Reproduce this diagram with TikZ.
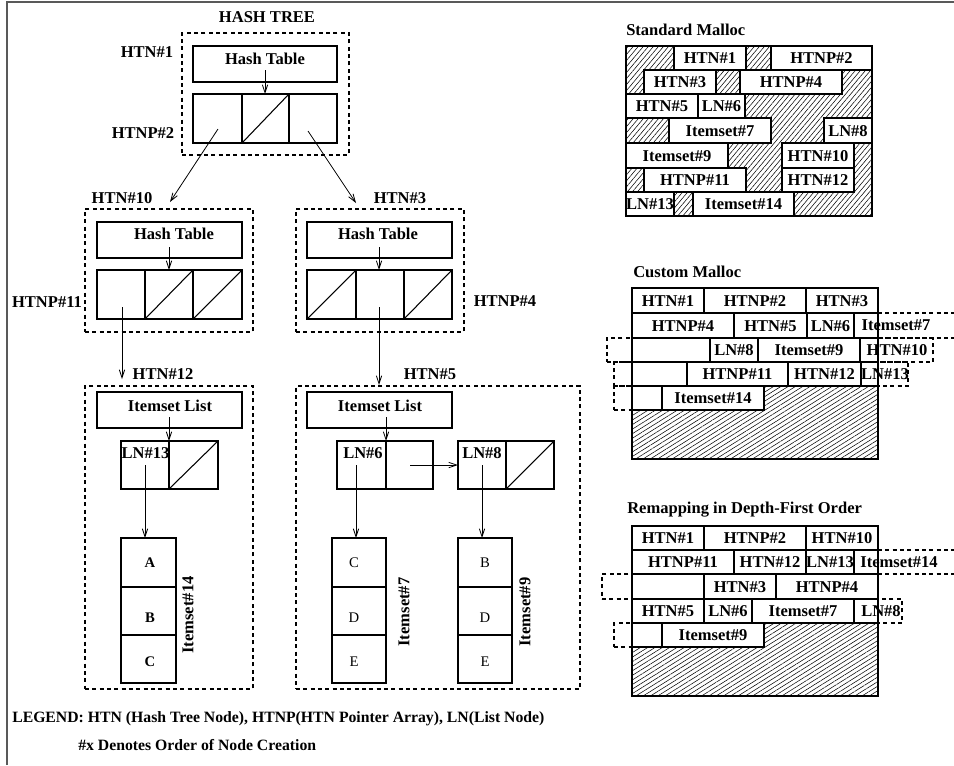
\documentclass[tikz,border=0pt]{standalone}
\usepackage{fontspec}
\setmainfont{Liberation Serif}
\usetikzlibrary{fit,arrows.meta,patterns.meta}
\newcommand\mcell[6]{\node[bx,fit={(#2,#3) (#4,#5)}] (#1) {};\node[lbl] (#1t) at ([yshift=-0.3pt]#1.center) {#6};}
\newcommand\ebox[5]{\node[bx,fit={(#2,#3) (#4,#5)}] (#1) {};}
\begin{document}
\begin{tikzpicture}[x=0.75pt,y=-0.75pt,
  lbl/.style={font=\fontsize{12.4}{14}\selectfont\bfseries, inner sep=0pt},
  leg/.style={font=\fontsize{11.8}{14}\selectfont\bfseries, inner sep=0pt},
  sml/.style={font=\fontsize{11}{12}\selectfont\bfseries, inner sep=0pt},
  smr/.style={font=\fontsize{11}{12}\selectfont, inner sep=0pt},
  bx/.style={draw, line width=0.8pt, inner sep=0pt, outer sep=0pt, fill=white},
  dbx/.style={draw, line width=0.8pt, inner sep=0pt, outer sep=0pt, dash pattern=on 3pt off 2.5pt},
  dln/.style={line width=0.8pt, dash pattern=on 3pt off 2.5pt},
  sl/.style={line width=0.8pt},
  arr/.style={line width=0.6pt, -{Straight Barb[length=6pt,width=4pt]}},
  hatchA/.style={pattern={Lines[angle=50,distance=2.9pt,line width=0.4pt]}},
  hatchB/.style={pattern={Lines[angle=32,distance=2.9pt,line width=0.4pt]}},
]
\useasboundingbox (0,0) rectangle (954,765);
\fill[white] (0,0) rectangle (954,765);
\draw[line width=1.5pt, black!65] (7,765) -- (7,2) -- (954,2);

% ---------------- HASH TREE ----------------
\node[lbl] (title) at (267,17) {HASH TREE};
\node[dbx, fit={(182,33) (349,155)}] (d1) {};
\ebox{ht1}{193}{46}{337}{82}
\node[lbl] (ht1t) at (265,59) {Hash Table};
\ebox{a1a}{193}{94}{242}{143}
\ebox{a1b}{242}{94}{289}{143}
\ebox{a1c}{289}{94}{337}{143}
\draw[sl] (a1b.south west) -- (a1b.north east);
\coordinate (s1) at (265,70);
\draw[arr] (s1) -- (a1b.north -| s1);
\node[lbl] (l1) at (147,52) {HTN\#1};
\node[lbl] (l2) at (143,133) {HTNP\#2};
\coordinate (p1) at (218,129);
\coordinate (t10) at (170,202);
\coordinate (p2) at (308,131);
\coordinate (t3) at (356,203);
\draw[arr] (p1) -- (t10);
\draw[arr] (p2) -- (t3);

% ---- HTN#10 ----
\node[lbl] (l10) at (122,198) {HTN\#10};
\node[dbx, fit={(85,209) (253,332)}] (d10) {};
\ebox{ht10}{97}{222}{242}{258}
\node[lbl] (ht10t) at (174,234) {Hash Table};
\ebox{a10a}{97}{270}{145}{319}
\ebox{a10b}{145}{270}{193}{319}
\ebox{a10c}{193}{270}{242}{319}
\draw[sl] (a10b.south west) -- (a10b.north east);
\draw[sl] (a10c.south west) -- (a10c.north east);
\coordinate (s10) at (169,247);
\draw[arr] (s10) -- (a10b.north -| s10);
\node[lbl] (l11) at (47,302) {HTNP\#11};

% ---- HTN#3 ----
\node[lbl] (l3) at (400,198) {HTN\#3};
\node[dbx, fit={(296,209) (464,332)}] (d3) {};
\ebox{ht3}{307}{222}{452}{258}
\node[lbl] (ht3t) at (378,234) {Hash Table};
\ebox{a3a}{307}{270}{356}{319}
\ebox{a3b}{356}{270}{404}{319}
\ebox{a3c}{404}{270}{452}{319}
\draw[sl] (a3a.south west) -- (a3a.north east);
\draw[sl] (a3c.south west) -- (a3c.north east);
\coordinate (s3) at (379,247);
\draw[arr] (s3) -- (a3b.north -| s3);
\node[lbl] (l4) at (505,301) {HTNP\#4};

% arrows to lower level
\coordinate (p11) at (122,307);
\coordinate (t12) at (122,379);
\draw[arr] (p11) -- (t12);
\coordinate (p4) at (379,307);
\coordinate (t5) at (379,385);
\draw[arr] (p4) -- (t5);

% ---- HTN#12 ----
\node[lbl] (l12) at (163,374) {HTN\#12};
\node[dbx, fit={(85,386) (253,689)}] (d12) {};
\ebox{il12}{97}{392}{242}{428}
\node[lbl] (il12t) at (170,406) {Itemset List};
\ebox{ln13a}{121}{441}{169}{489}
\ebox{ln13b}{169}{441}{218}{489}
\draw[sl] (ln13b.south west) -- (ln13b.north east);
\coordinate (s12) at (169,417);
\draw[arr] (s12) -- (ln13a.north east);
\node[lbl] (l13) at (145.5,453) {LN\#13};
\ebox{i14a}{121}{538}{176}{587}
\ebox{i14b}{121}{587}{176}{635}
\ebox{i14c}{121}{635}{176}{683}
\node[sml] (tA) at (150,563) {A};
\node[sml] (tB) at (150,618) {B};
\node[sml] (tC) at (150,662) {C};
\node[lbl, rotate=90] (l14) at (188,615) {Itemset\#14};
\coordinate (s13) at (145,465);
\draw[arr] (s13) -- (i14a.north -| s13);

% ---- HTN#5 ----
\node[lbl] (l5) at (430,374) {HTN\#5};
\node[dbx, fit={(296,386) (580,689)}] (d5) {};
\ebox{il5}{307}{392}{452}{428}
\node[lbl] (il5t) at (380,406) {Itemset List};
\ebox{ln6a}{337}{441}{386}{489}
\ebox{ln6b}{386}{441}{433}{489}
\coordinate (s5) at (386,417);
\draw[arr] (s5) -- (ln6a.north east);
\node[lbl] (l6) at (363,453) {LN\#6};
\ebox{ln8a}{458}{441}{506}{489}
\ebox{ln8b}{506}{441}{554}{489}
\draw[sl] (ln8b.south west) -- (ln8b.north east);
\node[lbl] (l8) at (482,453) {LN\#8};
\coordinate (s68) at (410,465);
\draw[arr] (s68) -- (s68 -| ln8a.west);
\ebox{i7a}{332}{538}{386}{587}
\ebox{i7b}{332}{587}{386}{635}
\ebox{i7c}{332}{635}{386}{683}
\node[smr] (tC7) at (354,563) {C};
\node[smr] (tD7) at (354,618) {D};
\node[smr] (tE7) at (354,662) {E};
\node[lbl, rotate=90] (l7) at (404,612) {Itemset\#7};
\coordinate (s6) at (356,465);
\draw[arr] (s6) -- (i7a.north -| s6);
\ebox{i9a}{458}{538}{512}{587}
\ebox{i9b}{458}{587}{512}{635}
\ebox{i9c}{458}{635}{512}{683}
\node[smr] (tB9) at (485,563) {B};
\node[smr] (tD9) at (485,618) {D};
\node[smr] (tE9) at (485,662) {E};
\node[lbl, rotate=90] (l9) at (525,612) {Itemset\#9};
\coordinate (s8) at (482,465);
\draw[arr] (s8) -- (i9a.north -| s8);

% legend
\node[leg, anchor=west] (leg1) at (12,719) {LEGEND: HTN (Hash Tree Node), HTNP(HTN Pointer Array), LN(List Node)};
\node[leg, anchor=west] (leg2) at (78,745) {\#x Denotes Order of Node Creation};

% ---------------- STANDARD MALLOC ----------------
\node[lbl, anchor=west] (tsm) at (626,30) {Standard Malloc};
\fill[hatchA] (626,46) rectangle (872,216);
\mcell{s1c}{674}{46}{746}{70}{HTN\#1}
\mcell{s2c}{771}{46}{872}{70}{HTNP\#2}
\mcell{s3c}{644}{70}{716}{94}{HTN\#3}
\mcell{s4c}{740}{70}{842}{94}{HTNP\#4}
\mcell{s5c}{626}{94}{698}{118}{HTN\#5}
\mcell{s6c}{698}{94}{745}{118}{LN\#6}
\mcell{s7c}{669}{118}{771}{143}{Itemset\#7}
\mcell{s8c}{824}{118}{872}{143}{LN\#8}
\mcell{s9c}{626}{143}{728}{168}{Itemset\#9}
\mcell{s10c}{782}{143}{854}{168}{HTN\#10}
\mcell{s11c}{644}{168}{746}{192}{HTNP\#11}
\mcell{s12c}{782}{168}{854}{192}{HTN\#12}
\mcell{s13c}{626}{192}{674}{216}{LN\#13}
\mcell{s14c}{693}{192}{794}{216}{Itemset\#14}
\node[draw, line width=0.9pt, inner sep=0pt, fit={(626,46) (872,216)}] (smbox) {};

% ---------------- CUSTOM MALLOC ----------------
\node[lbl, anchor=west] (tcm) at (633,272) {Custom Malloc};
\fill[hatchB] (764,386) -- (878,386) -- (878,459) -- (632,459) -- (632,410) -- (764,410) -- cycle;
\mcell{c1c}{632}{288}{704}{313}{HTN\#1}
\mcell{c2c}{704}{288}{806}{313}{HTNP\#2}
\mcell{c3c}{806}{288}{878}{313}{HTN\#3}
\mcell{c4c}{632}{313}{734}{338}{HTNP\#4}
\mcell{c5c}{734}{313}{807}{338}{HTN\#5}
\mcell{c6c}{807}{313}{854}{338}{LN\#6}
\ebox{c7c}{854}{313}{878}{338}
\draw[dln] (878,313) -- (954,313) (878,338) -- (954,338);
\node[dbx, fit={(607,338) (632,362)}] (c7x) {};
\ebox{c7r}{632}{338}{710}{362}
\mcell{c8c}{710}{338}{758}{362}{LN\#8}
\mcell{c9c}{758}{338}{860}{362}{Itemset\#9}
\node[dbx, fit={(860,338) (933,362)}] (c10x) {};
\ebox{c10c}{860}{338}{878}{362}
\node[dbx, fit={(614,362) (632,386)}] (c10y) {};
\ebox{c10r}{632}{362}{687}{386}
\mcell{c11c}{687}{362}{788}{386}{HTNP\#11}
\mcell{c12c}{788}{362}{861}{386}{HTN\#12}
\node[dbx, fit={(861,362) (908,386)}] (c13x) {};
\ebox{c13c}{861}{362}{878}{386}
\node[dbx, fit={(614,386) (632,410)}] (c13y) {};
\ebox{c13r}{632}{386}{662}{410}
\mcell{c14c}{662}{386}{764}{410}{Itemset\#14}
\node[draw, line width=0.9pt, inner sep=0pt, fit={(632,288) (878,459)}] (cmbox) {};
\node[lbl] (c7t) at (896,325.5) {Itemset\#7};
\node[lbl] (c10t) at (897,350) {HTN\#10};
\node[lbl] (c13t) at (885,374) {LN\#13};

% ---------------- REMAPPING ----------------
\node[lbl, anchor=west] (trm) at (627,510) {Remapping in Depth-First Order};
\fill[hatchB] (764,623) -- (878,623) -- (878,696) -- (632,696) -- (632,647) -- (764,647) -- cycle;
\mcell{r1c}{632}{526}{704}{550}{HTN\#1}
\mcell{r2c}{704}{526}{806}{550}{HTNP\#2}
\mcell{r10c}{806}{526}{878}{550}{HTN\#10}
\mcell{r11c}{632}{550}{734}{574}{HTNP\#11}
\mcell{r12c}{734}{550}{806}{574}{HTN\#12}
\mcell{r13c}{806}{550}{854}{574}{LN\#13}
\ebox{r14c}{854}{550}{878}{574}
\draw[dln] (878,550) -- (954,550) (878,574) -- (954,574);
\node[dbx, fit={(602,574) (632,599)}] (r14x) {};
\ebox{r14r}{632}{574}{704}{599}
\mcell{r3c}{704}{574}{776}{599}{HTN\#3}
\mcell{r4c}{776}{574}{878}{599}{HTNP\#4}
\mcell{r5c}{632}{599}{704}{623}{HTN\#5}
\mcell{r6c}{704}{599}{752}{623}{LN\#6}
\mcell{r7c}{752}{599}{854}{623}{Itemset\#7}
\node[dbx, fit={(854,599) (902,623)}] (r8x) {};
\ebox{r8c}{854}{599}{878}{623}
\node[dbx, fit={(614,623) (632,647)}] (r8y) {};
\ebox{r8r}{632}{623}{662}{647}
\mcell{r9c}{662}{623}{764}{647}{Itemset\#9}
\node[draw, line width=0.9pt, inner sep=0pt, fit={(632,526) (878,696)}] (rmbox) {};
\node[lbl] (r14t) at (899,562) {Itemset\#14};
\node[lbl] (r8t) at (881,611) {LN\#8};
\end{tikzpicture}
\end{document}
